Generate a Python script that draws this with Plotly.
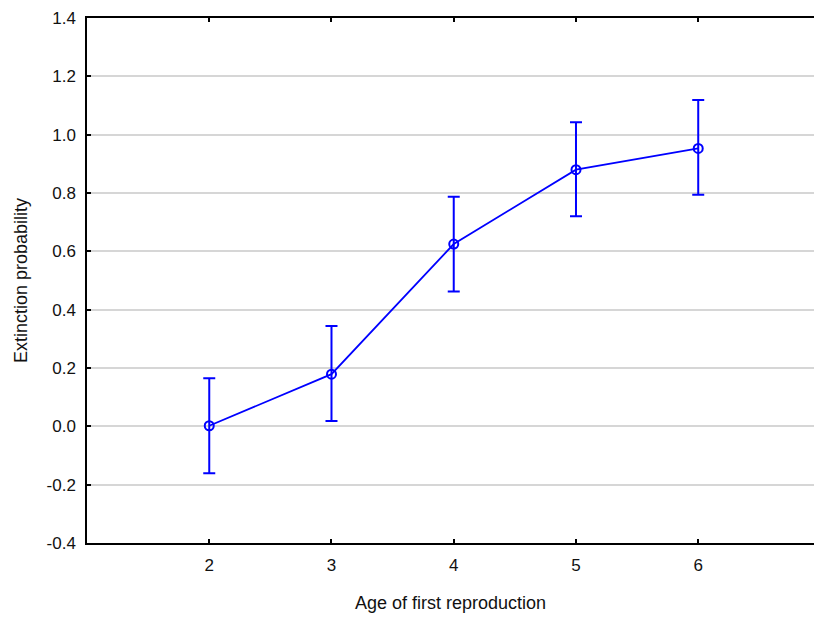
import plotly.graph_objects as go

ages = [2, 3, 4, 5, 6]
extinction_prob = [0.002, 0.179, 0.625, 0.880, 0.953]
err_upper = [0.163, 0.165, 0.162, 0.163, 0.166]
err_lower = [0.163, 0.161, 0.163, 0.160, 0.159]

x_ticks = [2, 3, 4, 5, 6]
y_ticks = [-0.4, -0.2, 0.0, 0.2, 0.4, 0.6, 0.8, 1.0, 1.2, 1.4]
y_ticktext = ["-0.4", "-0.2", "0.0", "0.2", "0.4", "0.6", "0.8", "1.0", "1.2", "1.4"]

blue = "#0000ff"
font = "Liberation Sans, Arial, sans-serif"

fig = go.Figure()
fig.add_trace(go.Scatter(
    x=ages, y=extinction_prob,
    mode="lines+markers",
    line=dict(color=blue, width=1.8),
    marker=dict(symbol="circle-open", size=9, color=blue, line=dict(width=2, color=blue)),
    error_y=dict(type="data", symmetric=False, array=err_upper, arrayminus=err_lower,
                 color=blue, thickness=2, width=6),
    showlegend=False,
))

fig.update_layout(
    width=814, height=619,
    margin=dict(l=87, r=0, t=18, b=76),
    paper_bgcolor="white", plot_bgcolor="white",
    font=dict(family=font, size=17, color="#111111"),
    xaxis=dict(
        range=[1, 6.947], tickvals=x_ticks, ticktext=[str(v) for v in x_ticks],
        tickfont=dict(size=17),
        showgrid=False, zeroline=False,
        showline=True, linecolor="black", linewidth=1.5, mirror="ticks",
        ticks="inside", ticklen=4, tickwidth=1.5, tickcolor="black",
        ticklabelstandoff=6,
        title=dict(text="Age of first reproduction", font=dict(size=18), standoff=22),
    ),
    yaxis=dict(
        range=[-0.4, 1.4], tickvals=y_ticks, ticktext=y_ticktext,
        tickfont=dict(size=17),
        showgrid=True, gridcolor="#d6d6d6", gridwidth=1.5, zeroline=False,
        showline=True, linecolor="black", linewidth=1.5, mirror=False,
        ticks="inside", ticklen=4, tickwidth=1.5, tickcolor="black",
        ticklabelstandoff=6,
        title=dict(text="Extinction probability", font=dict(size=18), standoff=14),
    ),
)

fig.write_html("out.html")
